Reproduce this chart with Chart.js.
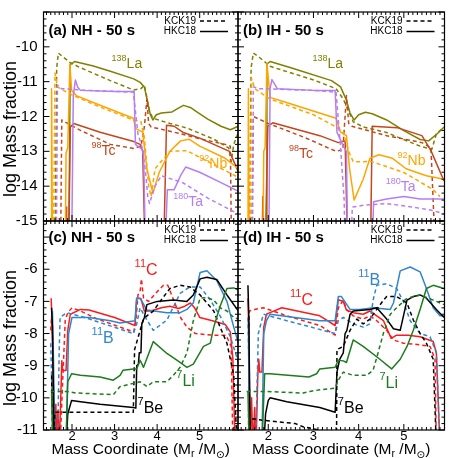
<!DOCTYPE html>
<html>
<head>
<meta charset="utf-8">
<script src="https://cdn.jsdelivr.net/npm/chart.js@4.4.1/dist/chart.umd.min.js"></script>
<style>
  html, body { margin: 0; padding: 0; background: #fff; }
  #wrap { position: relative; width: 458px; height: 458px; }
  #wrap canvas { position: absolute; left: 0; top: 0; }
</style>
</head>
<body>
<div id="wrap">
  <canvas id="pa" width="458" height="458"></canvas>
  <canvas id="pb" width="458" height="458"></canvas>
  <canvas id="pc" width="458" height="458"></canvas>
  <canvas id="pd" width="458" height="458"></canvas>
</div>
<script>
// axis ranges and tick labels
const xRange = [1.33, 5.9];
const xTickVals = [2, 3, 4, 5];
const topRange = [-15, -9];
const topTickVals = [-15, -14, -13, -12, -11, -10];
const botRange = [-11, -4.5];
const botTickVals = [-11, -10, -9, -8, -7, -6];

// ---- (a) NH, heavy isotopes: [Mr, log X] ----
const nhLaHKC = [[1.92,-16],[1.96,-10.5],[2.0,-10.48],[2.06,-10.42],[2.5,-10.55],[2.9,-10.7],[3.45,-10.92],[3.6,-11.02],[3.7,-11.15],[3.77,-11.55],[3.84,-11.95],[3.9,-12.1],[3.98,-11.95],[4.1,-11.9],[4.35,-11.87],[4.5,-11.76],[4.62,-11.68],[4.78,-11.74],[4.95,-11.88],[5.2,-12.08],[5.5,-12.28],[5.72,-12.38],[5.91,-12.28]];
const nhLaKCK = [[1.6,-16],[1.64,-10.6],[1.68,-10.18],[1.76,-10.26],[1.95,-10.45],[2.2,-10.6],[2.9,-10.97],[3.45,-11.24],[3.62,-11.2],[3.7,-11.1],[3.75,-11.4],[3.82,-11.85],[3.9,-12.05],[4.3,-12.2],[4.7,-12.33],[5.33,-12.65],[5.68,-12.9],[5.74,-13.3],[5.8,-12.8],[5.91,-12.45]];
const nhTcHKC = [[1.86,-16],[1.87,-14.6],[1.88,-16],[1.92,-16],[1.96,-12.3],[2.04,-12.2],[2.66,-12.45],[3.45,-12.72],[3.6,-12.8],[3.66,-13.0],[3.72,-16],[4.1,null],[4.15,-16],[4.22,-12.25],[4.4,-12.28],[4.6,-12.45],[5.0,-12.62],[5.7,-13.0],[5.91,-13.6]];
const nhTcKCK = [[1.73,-16],[1.76,-12.1],[1.9,-12.2],[2.2,-12.4],[2.9,-12.8],[3.45,-12.92],[3.62,-12.85],[3.7,-12.3],[3.76,-11.5],[3.8,-12.2],[3.86,-12.3],[4.5,-12.48],[5.0,-12.64],[5.6,-12.8],[5.72,-12.85],[5.75,-16]];
const nhNbHKC = [[1.51,-16],[1.52,-11.2],[1.54,-16],[1.84,null],[1.84,-16],[1.86,-13.05],[1.9,-12.9],[1.95,-10.5],[1.99,-11.25],[2.1,-11.4],[2.6,-11.65],[3.44,-12.05],[3.5,-12.35],[3.66,-12.45],[3.76,-13.5],[3.9,-14.2],[4.05,-13.6],[4.3,-13.0],[4.55,-12.7],[4.75,-12.65],[5.0,-12.85],[5.6,-13.2],[5.91,-13.5]];
const nhNbKCK = [[1.56,-16],[1.6,-10.75],[1.66,-11.15],[1.95,-11.35],[2.6,-11.7],[3.44,-12.1],[3.62,-12.15],[3.7,-12.6],[3.8,-14.0],[3.86,-14.3],[3.95,-13.5],[4.3,-13.0],[4.7,-12.98],[5.2,-13.3],[5.91,-13.75]];
const nhTaHKC = [[1.99,-16],[2.03,-11.4],[2.08,-10.95],[2.13,-11.15],[2.2,-11.25],[3.0,-11.28],[3.46,-11.28],[3.49,-12.8],[3.6,-12.9],[3.68,-13.0],[3.73,-16],[4.18,null],[4.18,-16],[4.24,-14.1],[4.4,-14.1],[4.55,-13.7],[4.67,-13.45],[5.0,-13.6],[5.5,-13.9],[5.91,-14.15]];
const nhTaKCK = [[1.63,-16],[1.66,-11.1],[1.75,-11.2],[2.4,-11.25],[3.44,-11.3],[3.55,-12.5],[3.65,-12.9],[3.72,-13.5],[3.78,-14.3],[3.82,-14.5],[3.95,-14.0],[4.1,-13.7],[4.6,-13.9],[5.2,-14.35],[5.91,-14.8]];

// ---- (b) IH, heavy isotopes ----
const ihLaHKC = [[1.95,-16],[1.97,-10.5],[2.04,-10.42],[2.5,-10.6],[3.4,-10.97],[3.6,-11.15],[3.72,-11.5],[3.81,-11.9],[3.9,-12.1],[4.0,-11.95],[4.15,-11.88],[4.3,-11.92],[4.62,-12.1],[4.99,-12.4],[5.36,-12.66],[5.55,-12.7],[5.75,-12.48],[5.89,-12.3]];
const ihLaKCK = [[1.58,-16],[1.62,-10.6],[1.67,-10.18],[1.8,-10.3],[2.04,-10.56],[3.0,-10.95],[3.5,-11.2],[3.66,-11.5],[3.88,-12.15],[4.1,-12.3],[4.62,-12.46],[4.99,-12.66],[5.36,-12.85],[5.62,-12.94],[5.72,-12.5],[5.89,-12.3]];
const ihTcHKC = [[1.86,-16],[1.88,-14.3],[1.9,-16],[1.93,-16],[1.99,-12.28],[2.1,-12.18],[3.14,-12.55],[3.55,-12.75],[3.7,-12.7],[3.76,-16],[4.25,null],[4.26,-16],[4.3,-12.28],[4.85,-12.32],[5.4,-12.55],[5.6,-12.98],[5.89,-13.85]];
const ihTcKCK = [[1.63,-16],[1.67,-12.0],[2.0,-12.2],[2.8,-12.6],[3.5,-13.0],[3.65,-12.95],[3.7,-12.0],[3.73,-11.4],[3.78,-12.2],[3.85,-12.28],[4.62,-12.55],[5.4,-12.75],[5.6,-12.9],[5.7,-16]];
const ihNbHKC = [[1.55,-16],[1.56,-11.2],[1.58,-16],[1.88,null],[1.88,-16],[1.9,-13.0],[1.93,-12.9],[1.97,-10.47],[2.04,-11.45],[2.4,-11.6],[3.5,-12.05],[3.6,-12.45],[3.73,-12.55],[3.8,-13.5],[3.9,-14.4],[4.1,-13.8],[4.25,-13.2],[4.45,-13.1],[4.75,-13.2],[5.05,-13.5],[5.5,-13.7],[5.89,-13.8]];
const ihNbKCK = [[1.6,-16],[1.63,-10.9],[1.7,-11.2],[2.04,-11.5],[3.0,-11.95],[3.5,-12.3],[3.66,-12.45],[3.78,-13.0],[3.88,-13.3],[4.1,-13.3],[4.25,-13.28],[4.99,-13.6],[5.65,-14.1],[5.8,-14.3]];
const ihTaHKC = [[2.01,-16],[2.04,-11.2],[2.08,-10.94],[2.2,-11.2],[3.0,-11.25],[3.48,-11.25],[3.52,-12.45],[3.66,-12.85],[3.73,-13.0],[3.76,-16],[4.3,null],[4.3,-16],[4.33,-14.45],[4.62,-14.37],[5.0,-14.3],[5.36,-14.37],[5.89,-14.37]];
const ihTaKCK = [[1.65,-16],[1.67,-11.15],[1.8,-11.2],[3.0,-11.25],[3.5,-11.3],[3.6,-12.9],[3.68,-14.4],[3.7,-16],[3.8,null],[3.82,-16],[3.86,-14.6],[4.1,-14.55],[4.62,-14.5],[5.2,-14.6],[5.65,-14.7],[5.89,-14.8]];

// ---- (c) NH, light isotopes ----
const nhC11HKC = [[1.51,-6.9],[1.53,-7.6],[1.56,-9.5],[1.6,-11.5],[1.62,-10.2],[1.64,-11.5],[1.67,-10.4],[1.7,-11.5],[1.74,-9.8],[1.76,-8.85],[1.78,-9.15],[1.86,-9.15],[1.9,-7.9],[1.96,-7.4],[2.2,-7.25],[2.4,-7.27],[3.0,-7.5],[3.48,-7.75],[3.52,-6.9],[3.62,-6.92],[3.7,-7.3],[3.85,-7.3],[4.1,-7.2],[4.3,-7.15],[4.5,-7.22],[4.65,-7.15],[4.78,-7.05],[4.88,-7.2],[5.0,-7.5],[5.3,-7.6],[5.6,-7.72],[5.72,-7.95],[5.78,-8.8],[5.83,-11.5]];
const nhC11KCK = [[1.5,-7.9],[1.52,-7.45],[1.55,-8.3],[1.58,-11.5],[1.72,-11.5],[1.78,-9.5],[1.84,-7.6],[1.9,-7.35],[2.0,-7.2],[2.2,-7.3],[2.6,-7.55],[3.45,-7.95],[3.5,-7.6],[3.55,-6.8],[3.6,-6.7],[3.63,-6.3],[3.68,-6.9],[3.8,-7.0],[4.0,-6.7],[4.15,-6.5],[4.25,-6.5],[4.4,-7.0],[4.55,-7.5],[4.7,-7.8],[4.9,-8.0],[5.3,-8.05],[5.62,-8.05],[5.74,-8.4],[5.78,-11.5]];
const nhB11HKC = [[1.54,-7.3],[1.56,-8.5],[1.6,-11.5],[1.86,-11.5],[1.92,-8.0],[2.0,-7.5],[2.4,-7.5],[2.9,-7.6],[3.13,-7.67],[3.48,-7.6],[3.52,-6.9],[3.6,-6.9],[3.76,-7.27],[4.23,-7.35],[4.54,-7.35],[4.7,-7.25],[4.85,-7.05],[5.01,-6.1],[5.17,-6.05],[5.4,-6.35],[5.64,-7.0],[5.8,-7.8],[5.91,-8.3]];
const nhB11KCK = [[1.5,-8.3],[1.53,-9.8],[1.56,-11.5],[1.66,-11.5],[1.7,-8.5],[1.72,-7.5],[1.88,-7.35],[2.3,-7.5],[3.44,-8.0],[3.52,-7.7],[3.6,-7.2],[3.76,-7.58],[3.91,-7.9],[4.23,-7.58],[4.54,-6.75],[4.77,-6.55],[5.01,-6.55],[5.25,-6.96],[5.48,-7.45],[5.72,-8.1],[5.84,-8.6],[5.91,-8.9]];
const nhLi7HKC = [[1.52,-9.85],[1.55,-11.5],[1.86,-11.5],[1.9,-9.5],[1.99,-9.25],[2.2,-9.3],[2.66,-9.35],[2.97,-9.45],[3.13,-9.3],[3.2,-9.14],[3.44,-9.1],[3.52,-9.1],[3.6,-8.83],[3.68,-9.05],[3.91,-8.25],[4.23,-8.62],[4.54,-8.9],[4.7,-9.05],[4.85,-8.95],[5.09,-8.4],[5.25,-8.3],[5.33,-7.8],[5.48,-7.15],[5.64,-6.6],[5.8,-6.58],[5.91,-6.65]];
const nhLi7KCK = [[1.5,-9.8],[1.88,-9.8],[2.1,-9.85],[2.97,-9.9],[3.13,-9.65],[3.44,-9.55],[3.6,-9.5],[3.76,-9.65],[3.91,-9.5],[4.23,-9.5],[4.38,-9.3],[4.54,-9.05],[4.7,-8.6],[4.85,-7.6],[5.01,-6.9],[5.17,-6.88],[5.33,-6.96],[5.48,-7.2],[5.64,-7.3],[5.8,-7.5],[5.91,-7.55]];
const nhBe7HKC = [[1.52,-7.2],[1.54,-7.8],[1.58,-11.5],[1.86,-11.5],[1.9,-10.5],[1.99,-10.08],[2.2,-10.12],[2.66,-10.2],[3.44,-10.3],[3.5,-10.32],[3.52,-9.0],[3.56,-8.95],[3.58,-8.6],[3.62,-8.6],[3.64,-7.7],[3.7,-7.5],[3.76,-7.1],[4.0,-7.0],[4.38,-6.96],[4.7,-7.0],[4.85,-6.8],[5.01,-6.3],[5.17,-6.25],[5.4,-6.32],[5.64,-6.8],[5.91,-7.3]];
const nhBe7KCK = [[1.52,-9.3],[1.55,-11.5],[1.6,-10.45],[2.5,-10.45],[3.44,-10.45],[3.47,-8.5],[3.6,-7.9],[3.68,-7.55],[3.76,-7.45],[3.91,-7.3],[4.07,-7.0],[4.3,-6.6],[4.54,-6.5],[4.77,-6.55],[5.01,-6.8],[5.33,-7.3],[5.48,-7.8],[5.64,-8.3],[5.8,-9.3],[5.88,-11.5]];

// ---- (d) IH, light isotopes ----
const ihC11HKC = [[1.55,-6.9],[1.57,-8],[1.6,-11.5],[1.63,-10],[1.66,-11.5],[1.7,-10.3],[1.73,-11.5],[1.77,-9.2],[1.79,-8.8],[1.81,-9.2],[1.86,-9.2],[1.9,-7.8],[1.96,-7.4],[2.04,-7.35],[2.3,-7.2],[3.14,-7.45],[3.48,-7.75],[3.55,-6.95],[3.66,-7.0],[3.73,-7.27],[3.88,-7.35],[4.1,-7.4],[4.25,-7.3],[4.4,-7.45],[4.55,-7.6],[4.72,-8.15],[4.84,-8.05],[5.1,-8.05],[5.36,-8.1],[5.65,-8.25],[5.72,-8.6],[5.8,-11.5]];
const ihC11KCK = [[1.56,-11.5],[1.58,-7.3],[1.7,-7.25],[1.89,-7.2],[2.04,-7.27],[2.41,-7.45],[3.14,-7.75],[3.48,-8.05],[3.55,-7.2],[3.66,-6.96],[3.73,-7.25],[3.88,-7.45],[4.1,-7.55],[4.25,-7.45],[4.4,-7.6],[4.62,-7.9],[4.77,-8.2],[4.99,-8.3],[5.36,-8.35],[5.58,-8.4],[5.69,-8.8],[5.72,-11.5]];
const ihB11HKC = [[1.56,-7.5],[1.58,-11.5],[1.86,-11.5],[1.9,-8.0],[1.96,-7.6],[2.04,-7.4],[3.14,-7.6],[3.48,-7.6],[3.55,-6.85],[3.62,-6.85],[3.81,-7.25],[4.03,-7.25],[4.32,-7.2],[4.7,-7.25],[4.77,-7.05],[4.92,-6.05],[5.14,-5.93],[5.36,-6.08],[5.5,-6.6],[5.65,-7.2],[5.8,-7.45],[5.89,-7.45]];
const ihB11KCK = [[1.55,-7.5],[1.58,-9.5],[1.62,-11.5],[1.72,-11.5],[1.78,-8],[1.89,-7.4],[2.41,-7.6],[3.48,-8.0],[3.55,-7.6],[3.66,-7.5],[3.88,-7.7],[4.1,-7.8],[4.25,-7.7],[4.32,-6.96],[4.4,-6.5],[4.62,-6.45],[4.84,-6.6],[4.99,-7.0],[5.14,-7.6],[5.36,-8.0],[5.58,-8.1],[5.72,-8.6],[5.8,-11.5]];
const ihLi7HKC = [[1.55,-9.8],[1.58,-11.5],[1.86,-11.5],[1.92,-9.25],[2.04,-9.25],[2.9,-9.35],[3.07,-9.25],[3.14,-9.1],[3.48,-9.05],[3.55,-8.83],[3.66,-8.85],[3.73,-8.9],[3.88,-8.2],[4.1,-8.4],[4.47,-8.8],[4.73,-9.1],[4.92,-8.8],[5.07,-8.4],[5.21,-7.9],[5.36,-7.25],[5.5,-6.6],[5.65,-6.5],[5.89,-6.6]];
const ihLi7KCK = [[1.52,-9.8],[1.9,-9.8],[2.77,-9.85],[2.92,-9.8],[3.14,-9.75],[3.48,-9.7],[3.55,-9.45],[3.66,-9.2],[3.88,-9.3],[4.18,-9.3],[4.32,-9.14],[4.4,-8.75],[4.55,-7.98],[4.7,-7.4],[4.84,-7.2],[5.07,-6.9],[5.36,-6.8],[5.65,-6.96],[5.89,-7.1]];
const ihBe7HKC = [[1.55,-6.5],[1.57,-7.5],[1.6,-11.5],[1.9,-11.5],[1.94,-10.5],[2.0,-10.08],[2.04,-10.0],[2.41,-10.12],[3.14,-10.3],[3.48,-10.45],[3.52,-9.2],[3.58,-8.8],[3.66,-8.6],[3.7,-8.0],[3.74,-7.9],[3.81,-7.4],[3.88,-7.3],[4.25,-7.25],[4.4,-7.2],[4.62,-7.55],[4.77,-7.85],[4.92,-7.9],[5.07,-6.96],[5.21,-6.85],[5.36,-6.8],[5.5,-6.9],[5.72,-7.25],[5.89,-7.5]];
const ihBe7KCK = [[1.56,-11.5],[1.6,-10.7],[1.67,-10.65],[1.89,-10.7],[2.6,-10.8],[2.77,-10.9],[3.14,-11.0],[3.48,-11.1],[3.5,null],[3.51,-11.5],[3.52,-8.5],[3.66,-8.4],[3.81,-7.9],[3.96,-7.55],[4.1,-7.7],[4.25,-7.55],[4.4,-7.25],[4.55,-6.96],[4.62,-6.85],[4.84,-6.85],[5.07,-7.05],[5.21,-7.58],[5.36,-8.0],[5.5,-8.3],[5.65,-8.8],[5.72,-11.5]];

const FONT = "'Liberation Sans', Arial, Helvetica, sans-serif";
const cLa = '#808000', cTc = '#c4461c', cNb = '#ffa500', cTa = '#b57ef2';
const cC = '#ff1a1a', cB = '#2f86cc', cLi = '#1e7b1e', cBe = '#000000';

function ds(points, color, dashed) {
  return {
    data: points.map(p => ({ x: p[0], y: p[1] })),
    borderColor: color,
    borderWidth: 1.5,
    borderDash: dashed ? [4, 3] : [],
    borderJoinStyle: 'round',
    pointRadius: 0,
    fill: false,
    tension: 0
  };
}

// frame, inward ticks, legend, panel title, isotope labels
const panelDeco = {
  id: 'panelDeco',
  afterDraw(chart, args, o) {
    const { ctx, chartArea: a, scales: { x, y } } = chart;
    ctx.save();
    ctx.strokeStyle = '#000';
    ctx.lineWidth = 1;
    const ticksAlong = (sc, step, draw) => {
      const i0 = Math.ceil(sc.min / step - 1e-6), i1 = Math.floor(sc.max / step + 1e-6);
      for (let i = i0; i <= i1; i++) {
        const v = i * step;
        const major = Math.abs(v - Math.round(v)) < 1e-6;
        draw(sc.getPixelForValue(v), major ? 6 : 3);
      }
    };
    ctx.beginPath();
    ticksAlong(x, 0.1, (p, l) => {
      ctx.moveTo(p, a.bottom); ctx.lineTo(p, a.bottom - l);
      ctx.moveTo(p, a.top); ctx.lineTo(p, a.top + l);
    });
    ticksAlong(y, 0.2, (p, l) => {
      ctx.moveTo(a.left, p); ctx.lineTo(a.left + l, p);
      ctx.moveTo(a.right, p); ctx.lineTo(a.right - l, p);
    });
    ctx.stroke();
    ctx.lineWidth = 1.2;
    ctx.strokeRect(a.left, a.top, a.right - a.left, a.bottom - a.top);

    // panel title
    ctx.fillStyle = '#000';
    ctx.font = 'bold 15px ' + FONT;
    ctx.textBaseline = 'middle';
    ctx.textAlign = 'left';
    ctx.fillText(o.title, a.left + 5, a.top + o.titleDy);

    // legend
    ctx.font = '10px ' + FONT;
    ctx.textAlign = 'right';
    ctx.fillText('KCK19', a.right - 42, a.top + 9);
    ctx.fillText('HKC18', a.right - 42, a.top + 19.5);
    ctx.lineWidth = 1.5;
    ctx.setLineDash([4, 3]);
    ctx.beginPath(); ctx.moveTo(a.right - 38, a.top + 9); ctx.lineTo(a.right - 10, a.top + 9); ctx.stroke();
    ctx.setLineDash([]);
    ctx.beginPath(); ctx.moveTo(a.right - 38, a.top + 19.5); ctx.lineTo(a.right - 10, a.top + 19.5); ctx.stroke();

    // isotope labels with superscript mass number
    ctx.textAlign = 'left';
    o.labels.forEach(l => {
      let px = x.getPixelForValue(l.x);
      const py = y.getPixelForValue(l.y);
      ctx.fillStyle = l.color;
      ctx.font = o.supSize + 'px ' + FONT;
      ctx.fillText(l.sup, px, py - o.mainSize * 0.4);
      px += ctx.measureText(l.sup).width;
      ctx.font = o.mainSize + 'px ' + FONT;
      ctx.fillText(l.main, px, py);
    });

    // x axis title with subscripts
    if (o.xTitle) {
      const big = '15.5px ' + FONT, small = '10.5px ' + FONT;
      const parts = [
        ['Mass Coordinate (M', big, 0], ['r', small, 3], [' /M', big, 0],
        ['\u2299', "10.5px 'DejaVu Sans', " + FONT, 4], [')', big, 0]
      ];
      let w = 0;
      parts.forEach(p => { ctx.font = p[1]; w += ctx.measureText(p[0]).width; });
      let px = (a.left + a.right) / 2 - w / 2;
      ctx.fillStyle = '#000';
      ctx.textBaseline = 'alphabetic';
      parts.forEach(p => {
        ctx.font = p[1];
        ctx.fillText(p[0], px, a.bottom + 23.5 + p[2]);
        px += ctx.measureText(p[0]).width;
      });
    }
    ctx.restore();
  }
};

function makePanel(id, cfg) {
  const W = 458, H = 458;
  const a = cfg.area;
  const yTicks = cfg.yTicks;
  return new Chart(document.getElementById(id), {
    type: 'line',
    data: { datasets: cfg.series.map(s => ds(s[0], s[1], s[2])) },
    plugins: [panelDeco],
    options: {
      responsive: false,
      animation: false,
      devicePixelRatio: 1,
      layout: {
        padding: {
          left: cfg.showY ? 0 : a.left,
          top: a.top,
          right: W - a.right,
          bottom: cfg.showX ? 0 : H - a.bottom
        }
      },
      plugins: {
        legend: { display: false },
        tooltip: { enabled: false },
        panelDeco: {
          title: cfg.title, titleDy: cfg.titleDy, labels: cfg.labels,
          supSize: cfg.supSize, mainSize: cfg.mainSize, xTitle: cfg.showX
        }
      },
      scales: {
        x: {
          type: 'linear',
          min: xRange[0], max: xRange[1],
          display: cfg.showX,
          grid: { display: false, drawTicks: false },
          border: { display: false },
          afterBuildTicks: s => { s.ticks = xTickVals.map(v => ({ value: v })); },
          afterFit: s => {
            if (!cfg.showX) return;
            s.height = H - a.bottom; s.paddingLeft = 0; s.paddingRight = 0;
          },
          ticks: { color: '#000', padding: -1, font: { family: FONT, size: 13 }, maxRotation: 0 }
        },
        y: {
          type: 'linear',
          min: cfg.yRange[0], max: cfg.yRange[1],
          display: cfg.showY,
          grid: { display: false, drawTicks: false },
          border: { display: false },
          afterBuildTicks: s => { s.ticks = yTicks.map(v => ({ value: v })); },
          afterFit: s => {
            if (!cfg.showY) return;
            s.width = a.left; s.paddingTop = 0; s.paddingBottom = 0;
          },
          ticks: { color: '#000', padding: 6, font: { family: FONT, size: 15 } },
          title: {
            display: true,
            text: 'log Mass fraction' + '\u00a0'.repeat(5),
            color: '#000',
            font: { family: FONT, size: 18 },
            padding: { top: 0, bottom: 0 }
          }
        }
      }
    }
  });
}

const topLabelsNH = [
  { sup: '138', main: 'La', x: 2.93, y: -10.51, color: cLa },
  { sup: '98', main: 'Tc', x: 2.46, y: -12.99, color: cTc },
  { sup: '92', main: 'Nb', x: 4.99, y: -13.37, color: cNb },
  { sup: '180', main: 'Ta', x: 4.38, y: -14.47, color: cTa }
];
const topLabelsIH = [
  { sup: '138', main: 'La', x: 2.98, y: -10.49, color: cLa },
  { sup: '98', main: 'Tc', x: 2.46, y: -13.09, color: cTc },
  { sup: '92', main: 'Nb', x: 4.86, y: -13.28, color: cNb },
  { sup: '180', main: 'Ta', x: 4.6, y: -14.04, color: cTa }
];
const botLabelsNH = [
  { sup: '11', main: 'C', x: 3.47, y: -6.03, color: cC },
  { sup: '11', main: 'B', x: 2.46, y: -8.15, color: cB },
  { sup: '7', main: 'Li', x: 4.45, y: -9.5, color: cLi },
  { sup: '7', main: 'Be', x: 3.54, y: -10.33, color: cBe }
];
const botLabelsIH = [
  { sup: '11', main: 'B', x: 3.99, y: -6.34, color: cB },
  { sup: '11', main: 'C', x: 2.48, y: -6.96, color: cC },
  { sup: '7', main: 'Li', x: 4.46, y: -9.56, color: cLi },
  { sup: '7', main: 'Be', x: 3.54, y: -10.33, color: cBe }
];

makePanel('pa', {
  area: { left: 43.5, top: 12, right: 238, bottom: 221 },
  yRange: topRange, yTicks: topTickVals, showY: true, showX: false,
  title: '(a) NH - 50 s', titleDy: 19, labels: topLabelsNH, supSize: 9, mainSize: 14,
  series: [
    [nhTaKCK, cTa, true], [nhTaHKC, cTa, false],
    [nhNbKCK, cNb, true], [nhNbHKC, cNb, false],
    [nhTcKCK, cTc, true], [nhTcHKC, cTc, false],
    [nhLaKCK, cLa, true], [nhLaHKC, cLa, false]
  ]
});
makePanel('pb', {
  area: { left: 238, top: 12, right: 444.5, bottom: 221 },
  yRange: topRange, yTicks: topTickVals, showY: false, showX: false,
  title: '(b) IH - 50 s', titleDy: 19, labels: topLabelsIH, supSize: 9, mainSize: 14,
  series: [
    [ihTaKCK, cTa, true], [ihTaHKC, cTa, false],
    [ihNbKCK, cNb, true], [ihNbHKC, cNb, false],
    [ihTcKCK, cTc, true], [ihTcHKC, cTc, false],
    [ihLaKCK, cLa, true], [ihLaHKC, cLa, false]
  ]
});
makePanel('pc', {
  area: { left: 43.5, top: 221, right: 238, bottom: 430 },
  yRange: botRange, yTicks: botTickVals, showY: true, showX: true,
  title: '(c) NH - 50 s', titleDy: 17, labels: botLabelsNH, supSize: 11, mainSize: 16,
  series: [
    [nhLi7KCK, cLi, true], [nhLi7HKC, cLi, false],
    [nhBe7KCK, cBe, true], [nhBe7HKC, cBe, false],
    [nhB11KCK, cB, true], [nhB11HKC, cB, false],
    [nhC11KCK, cC, true], [nhC11HKC, cC, false]
  ]
});
makePanel('pd', {
  area: { left: 238, top: 221, right: 444.5, bottom: 430 },
  yRange: botRange, yTicks: botTickVals, showY: false, showX: true,
  title: '(d) IH - 50 s', titleDy: 17, labels: botLabelsIH, supSize: 11, mainSize: 16,
  series: [
    [ihLi7KCK, cLi, true], [ihLi7HKC, cLi, false],
    [ihBe7KCK, cBe, true], [ihBe7HKC, cBe, false],
    [ihB11KCK, cB, true], [ihB11HKC, cB, false],
    [ihC11KCK, cC, true], [ihC11HKC, cC, false]
  ]
});
</script>
</body>
</html>
